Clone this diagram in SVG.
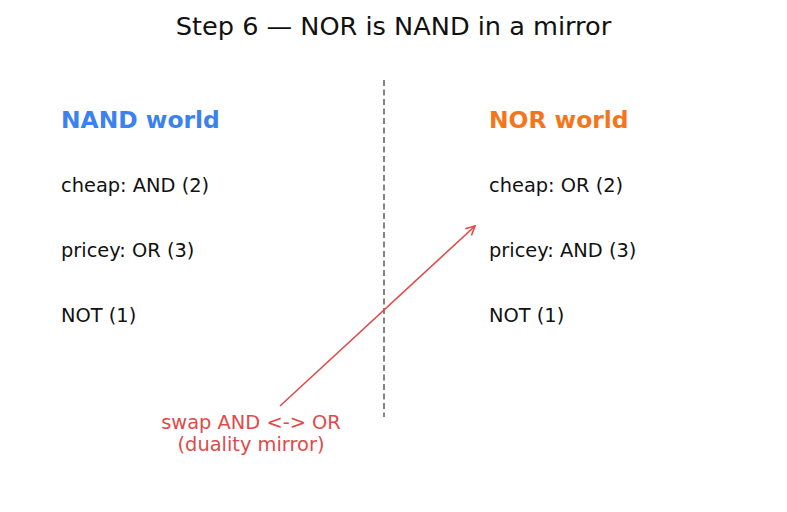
<svg xmlns="http://www.w3.org/2000/svg" width="787" height="512" viewBox="0 0 787 512">
<style>
text{font-family:"DejaVu Sans",sans-serif}
.t{font-size:25.6px;fill:#111}
.h{font-size:23.4px;font-weight:bold}
.b{font-size:19.4px;fill:#111}
.r{font-size:19.4px;fill:#e04a4a;text-anchor:middle}
</style>
<defs>
<marker id="ah" viewBox="0 0 12 12" refX="10" refY="6" markerWidth="12" markerHeight="12" markerUnits="userSpaceOnUse" orient="auto">
<path d="M1,1.5 L10,6 L1,10.5" fill="none" stroke="#e04a4a" stroke-width="1.6"/>
</marker>
</defs>
<rect width="787" height="512" fill="#fff"/>
<text class="t" x="393.5" y="35" text-anchor="middle">Step 6 — NOR is NAND in a mirror</text>
<g id="connectors">
<line x1="384" y1="80" x2="384" y2="417" stroke="#666" stroke-width="1.6" stroke-dasharray="6,3.5"/>
<line x1="280" y1="406" x2="475" y2="226" stroke="#e04a4a" stroke-width="1.6" marker-end="url(#ah)"/>
</g>
<g id="nand">
<text class="h" x="61" y="128" fill="#3b82f0">NAND world</text>
<text class="b" x="61" y="192">cheap: AND (2)</text>
<text class="b" x="61" y="257">pricey: OR (3)</text>
<text class="b" x="61" y="322">NOT (1)</text>
</g>
<g id="nor">
<text class="h" x="489" y="128" fill="#f5761a">NOR world</text>
<text class="b" x="489" y="192">cheap: OR (2)</text>
<text class="b" x="489" y="257">pricey: AND (3)</text>
<text class="b" x="489" y="322">NOT (1)</text>
</g>
<g id="label">
<text class="r" x="251" y="429">swap AND &lt;-&gt; OR</text>
<text class="r" x="251" y="451">(duality mirror)</text>
</g>
</svg>
